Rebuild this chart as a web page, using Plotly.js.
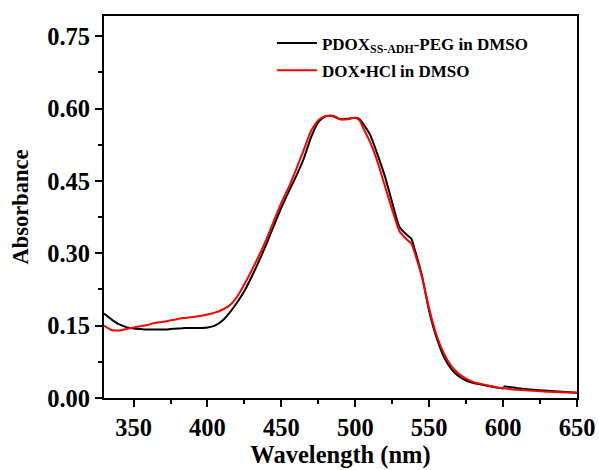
<!DOCTYPE html>
<html>
<head>
<meta charset="utf-8">
<script src="https://cdn.plot.ly/plotly-3.0.1.min.js"></script>
<style>html,body{margin:0;padding:0;background:#fff;}#chart{width:599px;height:470px;}</style>
</head>
<body>
<div id="chart"></div>
<script>
const pdoxWavelength = [330,335,340,345,350,355,360,365,370,375,380,385,390,395,400,405,410,415,420,425,430,435,440,445,450,455,460,465,470,475,480,485,490,495,500,503,505,510,515,520,525,530,535,538,540,545,550,555,560,565,570,575,580,585,590,595,600,601,610,620,630,640,650];
const pdoxAbs = [0.175,0.163,0.153,0.147,0.144,0.143,0.142,0.142,0.142,0.143,0.144,0.145,0.145,0.145,0.146,0.150,0.160,0.177,0.198,0.222,0.252,0.285,0.320,0.358,0.395,0.428,0.460,0.495,0.540,0.572,0.584,0.584,0.578,0.579,0.581,0.578,0.570,0.546,0.505,0.460,0.405,0.354,0.338,0.330,0.310,0.255,0.180,0.125,0.085,0.060,0.045,0.036,0.031,0.028,0.025,0.022,0.020,0.024,0.020,0.017,0.015,0.013,0.011];

const doxWavelength = [330,335,340,345,350,355,360,365,370,375,380,385,390,395,400,405,410,415,420,425,430,435,440,445,450,455,460,465,470,475,480,485,490,495,500,503,505,510,515,520,525,530,535,538,540,545,550,555,560,565,570,575,580,590,600,610,620,630,640,650];
const doxAbs = [0.150,0.141,0.140,0.143,0.146,0.149,0.152,0.156,0.158,0.161,0.164,0.166,0.168,0.170,0.173,0.177,0.183,0.192,0.210,0.236,0.265,0.296,0.330,0.368,0.405,0.437,0.474,0.513,0.553,0.576,0.585,0.585,0.578,0.578,0.581,0.575,0.562,0.531,0.490,0.440,0.390,0.345,0.328,0.320,0.303,0.252,0.185,0.130,0.092,0.066,0.050,0.040,0.033,0.026,0.020,0.017,0.015,0.013,0.012,0.011];

const seriesNames = ['PDOX<sub>SS-ADH</sub>-PEG in DMSO', 'DOX\u2022HCl in DMSO'];
const xTicks = [350,400,450,500,550,600,650];
const yTicks = [0.00,0.15,0.30,0.45,0.60,0.75];

const fontFam = '"Liberation Serif","Times New Roman",serif';

const traces = [
  {x: pdoxWavelength, y: pdoxAbs, type: 'scatter', mode: 'lines', name: seriesNames[0], legendgroup: 'a',
   line: {color: '#000000', width: 2, shape: 'spline', smoothing: 0.6}},
  {x: doxWavelength, y: doxAbs, type: 'scatter', mode: 'lines', name: seriesNames[1], legendgroup: 'b',
   line: {color: '#ff0000', width: 2, shape: 'spline', smoothing: 0.6}}
];

const axisCommon = {
  showline: true, linecolor: '#000', linewidth: 2, mirror: true,
  ticks: 'outside', ticklen: 7, tickwidth: 2, tickcolor: '#000',
  showgrid: false, zeroline: false,
  tickfont: {family: fontFam, size: 24.5, color: '#000', weight: 'bold'}
};

const layout = {
  width: 599, height: 470,
  margin: {l: 104, r: 22, t: 16, b: 72},
  paper_bgcolor: '#fff', plot_bgcolor: '#fff',
  font: {family: fontFam, color: '#000'},
  showlegend: true,
  legend: {x: 0.355, y: 0.975, xanchor: 'left', yanchor: 'top', bgcolor: 'rgba(0,0,0,0)',
           font: {family: fontFam, size: 17, color: '#000', weight: 'bold'},
           traceorder: 'grouped', tracegroupgap: 2, itemwidth: 40},
  xaxis: Object.assign({}, axisCommon, {
    range: [330, 650], tickvals: xTicks, ticktext: xTicks.map(String),
    minor: {dtick: 25, tick0: 325, ticks: 'outside', ticklen: 4, tickwidth: 2, tickcolor: '#000'},
    title: {text: 'Wavelength (nm)', font: {family: fontFam, size: 24.5, color: '#000', weight: 'bold'}, standoff: 3}
  }),
  yaxis: Object.assign({}, axisCommon, {
    range: [0, 0.792], tickvals: yTicks, ticktext: yTicks.map(v => v.toFixed(2)),
    minor: {dtick: 0.075, tick0: 0, ticks: 'outside', ticklen: 4, tickwidth: 2, tickcolor: '#000'},
    title: {text: 'Absorbance', font: {family: fontFam, size: 22.5, color: '#000', weight: 'bold'}, standoff: 12}
  })
};

Plotly.newPlot('chart', traces, layout, {staticPlot: true, displayModeBar: false});
</script>
</body>
</html>
